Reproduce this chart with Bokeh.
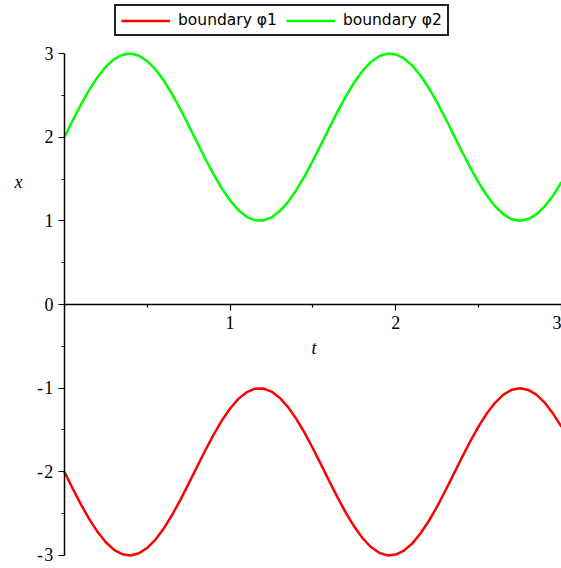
from bokeh.plotting import figure
from bokeh.models import FixedTicker, Legend, LegendItem, Label, Range1d, PrintfTickFormatter
from bokeh.embed import file_html
from bokeh.resources import INLINE

# ---- data ----
t = [0.00, 0.05, 0.10, 0.15, 0.20, 0.25, 0.30, 0.35, 0.40, 0.45,
     0.50, 0.55, 0.60, 0.65, 0.70, 0.75, 0.80, 0.85, 0.90, 0.95,
     1.00, 1.05, 1.10, 1.15, 1.20, 1.25, 1.30, 1.35, 1.40, 1.45,
     1.50, 1.55, 1.60, 1.65, 1.70, 1.75, 1.80, 1.85, 1.90, 1.95,
     2.00, 2.05, 2.10, 2.15, 2.20, 2.25, 2.30, 2.35, 2.40, 2.45,
     2.50, 2.55, 2.60, 2.65, 2.70, 2.75, 2.80, 2.85, 2.90, 2.95,
     3.00]

phi2 = [2.000, 2.199, 2.389, 2.565, 2.717, 2.842, 2.932, 2.985, 3.000, 2.974,
        2.909, 2.809, 2.676, 2.516, 2.335, 2.141, 1.942, 1.745, 1.558, 1.388,
        1.243, 1.128, 1.048, 1.006, 1.004, 1.041, 1.117, 1.227, 1.369, 1.535,
        1.721, 1.917, 2.117, 2.312, 2.494, 2.657, 2.794, 2.899, 2.968, 2.999,
        2.989, 2.941, 2.855, 2.734, 2.585, 2.412, 2.223, 2.025, 1.826, 1.634,
        1.456, 1.300, 1.172, 1.077, 1.019, 1.000, 1.021, 1.081, 1.177, 1.307,
        1.463]

phi1 = [-2.000, -2.199, -2.389, -2.565, -2.717, -2.842, -2.932, -2.985, -3.000, -2.974,
        -2.909, -2.809, -2.676, -2.516, -2.335, -2.141, -1.942, -1.745, -1.558, -1.388,
        -1.243, -1.128, -1.048, -1.006, -1.004, -1.041, -1.117, -1.227, -1.369, -1.535,
        -1.721, -1.917, -2.117, -2.312, -2.494, -2.657, -2.794, -2.899, -2.968, -2.999,
        -2.989, -2.941, -2.855, -2.734, -2.585, -2.412, -2.223, -2.025, -1.826, -1.634,
        -1.456, -1.300, -1.172, -1.077, -1.019, -1.000, -1.021, -1.081, -1.177, -1.307,
        -1.463]

x_major = [1, 2, 3]
x_minor = [0.5, 1.5, 2.5]
y_major = [-3, -2, -1, 0, 1, 2, 3]
y_minor = [-2.5, -1.5, -0.5, 0.5, 1.5, 2.5]
y_neg_ticks = [-3, -2, -1]
y_neg_labels = ["-\u200a3", "-\u200a2", "-\u200a1"]
legend_labels = ["boundary φ1", "boundary φ2"]
x_title = "t"
y_title = "x"

# ---- figure: the frame fills the canvas, axes cross at the origin ----
p = figure(width=561, height=568, output_backend="svg", toolbar_location=None,
           x_range=Range1d(-0.3855, 3.0), y_range=Range1d(-3.1554, 3.6335),
           min_border_left=0, min_border_right=0,
           min_border_top=0, min_border_bottom=0)
p.outline_line_color = None
p.grid.visible = False
p.background_fill_color = "white"
p.border_fill_color = "white"

r1 = p.line(t, phi1, line_color="#ff0000", line_width=2.5)
r2 = p.line(t, phi2, line_color="#00ff00", line_width=2.5)

for ax in (p.xaxis[0], p.yaxis[0]):
    ax.fixed_location = 0
    ax.axis_line_color = "black"
    ax.axis_line_width = 1.5
    ax.major_tick_line_color = "black"
    ax.minor_tick_line_color = "black"
    ax.major_tick_line_width = 1.2
    ax.minor_tick_line_width = 1.2
    ax.major_tick_in = 0
    ax.major_tick_out = 6
    ax.minor_tick_in = 0
    ax.minor_tick_out = 3
    ax.major_label_text_font = "Liberation Serif"
    ax.major_label_text_font_size = "18px"
    ax.major_label_text_color = "black"
    ax.major_label_standoff = 5
    ax.formatter = PrintfTickFormatter(format="%d")

p.yaxis[0].major_label_overrides = dict(zip(y_neg_ticks, y_neg_labels))

p.xaxis[0].bounds = (0, 3)
p.yaxis[0].bounds = (-3, 3)
p.xaxis[0].ticker = FixedTicker(ticks=x_major, minor_ticks=x_minor)
p.yaxis[0].ticker = FixedTicker(ticks=y_major, minor_ticks=y_minor)

xlab = Label(x=1.506, y=-0.514, text=x_title, text_align="center",
             text_baseline="middle", text_font="Liberation Serif",
             text_font_style="italic", text_font_size="18px", text_color="black")
ylab = Label(x=-0.277, y=1.47, text=y_title, text_align="center",
             text_baseline="middle", text_font="Liberation Serif",
             text_font_style="italic", text_font_size="18px", text_color="black")
p.add_layout(xlab)
p.add_layout(ylab)

legend = Legend(items=[LegendItem(label=legend_labels[0], renderers=[r1]),
                       LegendItem(label=legend_labels[1], renderers=[r2])],
                orientation="horizontal", location=(114, 532),
                glyph_width=49, glyph_height=15, label_height=15,
                label_standoff=8, spacing=9, padding=5, margin=0,
                label_text_font="DejaVu Sans", label_text_font_size="15.5px",
                label_text_color="black",
                border_line_color="#222222", border_line_width=2,
                border_line_alpha=1.0,
                background_fill_color="white", background_fill_alpha=1.0)
p.add_layout(legend)

open("out.html", "w").write(file_html(p, INLINE))
